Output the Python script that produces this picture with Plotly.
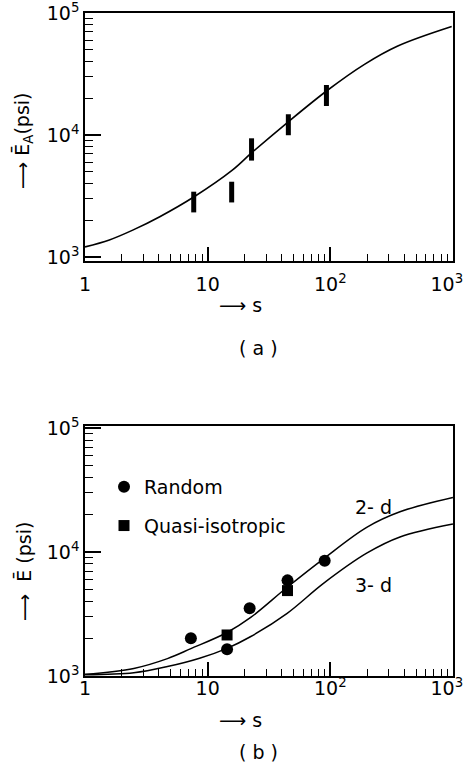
import plotly.graph_objects as go

# ---------- data ----------
a_curve_s = [1, 1.58, 2.45, 4.07, 7.76, 15.8, 22.9, 45.7, 95.5, 190, 355, 977]
a_curve_E = [1210, 1380, 1660, 2140, 3120, 5130, 7160, 12900, 23400, 38000, 53700, 77600]
a_bar_s = [7.7, 15.7, 22.8, 45.5, 93]
a_bar_lo = [2320, 2800, 6170, 9960, 17300]
a_bar_hi = [3430, 4140, 9400, 14800, 25700]

b2_s = [1, 2.5, 4.7, 7.3, 14.4, 22.3, 44.5, 88, 198, 370, 1000]
b2_E = [1030, 1150, 1380, 1660, 2240, 2950, 5190, 8810, 15800, 21100, 27500]
b3_s = [1, 2.5, 4.7, 8.6, 14.4, 22.3, 44.5, 88, 198, 370, 1000]
b3_E = [1020, 1060, 1190, 1390, 1670, 2070, 3200, 5580, 9770, 13200, 16800]
rand_s = [7.3, 14.4, 22, 44.8, 90]
rand_E = [2010, 1640, 3520, 5900, 8500]
quasi_s = [14.4, 44.8]
quasi_E = [2140, 4880]

x_tickvals = [1, 10, 100, 1000]
x_ticktext = ["1", "10", "10<sup>2</sup>", "10<sup>3</sup>"]
y_tickvals = [1000, 10000, 100000]
y_ticktext = ["10<sup>3</sup>", "10<sup>4</sup>", "10<sup>5</sup>"]
minor_vals = [m * 10 ** d for d in range(0, 5) for m in range(2, 10)]
# the last x label sits slightly left of its tick (as in the reference)
x_label_pos = x_tickvals[:-1] + [x_tickvals[-1] * 10 ** -0.05]

FONT = "DejaVu Sans"
W, H = 463, 762

def px_x(p):
    return p / W

def px_y(p):
    return 1 - p / H

fig = go.Figure()

fig.add_trace(go.Scatter(x=a_curve_s, y=a_curve_E, mode="lines",
                         line=dict(color="black", width=1.6, shape="spline", smoothing=1.0),
                         showlegend=False, xaxis="x", yaxis="y"))
bx, by = [], []
for s, lo, hi in zip(a_bar_s, a_bar_lo, a_bar_hi):
    bx += [s, s, None]
    by += [lo, hi, None]
fig.add_trace(go.Scatter(x=bx, y=by, mode="lines",
                         line=dict(color="black", width=5),
                         showlegend=False, xaxis="x", yaxis="y"))

fig.add_trace(go.Scatter(x=b2_s, y=b2_E, mode="lines",
                         line=dict(color="black", width=1.5, shape="spline", smoothing=1.0),
                         showlegend=False, xaxis="x2", yaxis="y2"))
fig.add_trace(go.Scatter(x=b3_s, y=b3_E, mode="lines",
                         line=dict(color="black", width=1.5, shape="spline", smoothing=1.0),
                         showlegend=False, xaxis="x2", yaxis="y2"))
fig.add_trace(go.Scatter(x=rand_s, y=rand_E, mode="markers", name="Random",
                         marker=dict(symbol="circle", size=12, color="black"),
                         legendgroup="r", xaxis="x2", yaxis="y2"))
fig.add_trace(go.Scatter(x=quasi_s, y=quasi_E, mode="markers", name="Quasi-isotropic",
                         marker=dict(symbol="square", size=11, color="black"),
                         legendgroup="q", xaxis="x2", yaxis="y2"))

XRANGE = [0, 3.0005]
xdom = [px_x(85), px_x(453)]
TF = dict(family=FONT, size=19, color="black")

def base_axis(rng, dom):
    return dict(type="log", range=rng, domain=dom, automargin=False,
                showgrid=False, zeroline=False, ticklabeloverflow="allow")

def helper_trace(xref, yref):
    # empty trace so that the overlay axis is drawn
    fig.add_trace(go.Scatter(x=[], y=[], mode="markers", showlegend=False,
                             hoverinfo="skip", xaxis=xref, yaxis=yref))

panels = [
    # (x id, y id, y range, y domain px (bottom, top), label row px)
    ("x", "y", [2.967, 5.0005], (261, 13), 271),
    ("x2", "y2", [2.9995, 5.016], (676, 426), 675),
]

layout_axes = {}
n = 3
for xid, yid, yrng, (ybot, ytop), label_px in panels:
    ydom = [px_y(ybot), px_y(ytop)]
    # frame
    ax = base_axis(XRANGE, xdom)
    ax.update(anchor=yid, showline=True, linecolor="black", linewidth=1.5, mirror=True,
              ticks="", showticklabels=False)
    layout_axes["xaxis" if xid == "x" else "xaxis2"] = ax
    ay = base_axis(yrng, ydom)
    ay.update(anchor=xid, showline=True, linecolor="black", linewidth=1.5, mirror=True,
              ticks="", tickmode="array", tickvals=y_tickvals, ticktext=y_ticktext,
              tickfont=TF)
    layout_axes["yaxis" if yid == "y" else "yaxis2"] = ay
    # x ticks: major and minor
    for vals, tlen, tw in ((x_tickvals, 14, 1.8), (minor_vals, 7, 1.3)):
        tx = base_axis(XRANGE, xdom)
        tx.update(overlaying=xid, anchor=yid, showline=False, ticks="inside", ticklen=tlen,
                  tickwidth=tw, tickcolor="black", tickmode="array", tickvals=vals,
                  showticklabels=False)
        layout_axes["xaxis%d" % n] = tx
        helper_trace("x%d" % n, yid)
        n += 1
    # x labels (free position)
    lx = base_axis(XRANGE, xdom)
    lx.update(overlaying=xid, anchor="free", position=px_y(label_px), showline=False,
              ticks="", tickmode="array", tickvals=x_label_pos, ticktext=x_ticktext,
              tickfont=TF)
    layout_axes["xaxis%d" % n] = lx
    helper_trace("x%d" % n, yid)
    n += 1
    # y ticks: major and minor
    for vals, tlen, tw in ((y_tickvals, 16, 1.8), (minor_vals, 8, 1.3)):
        ty = base_axis(yrng, ydom)
        ty.update(overlaying=yid, anchor=xid, showline=False, ticks="inside", ticklen=tlen,
                  tickwidth=tw, tickcolor="black", tickmode="array", tickvals=vals,
                  showticklabels=False)
        layout_axes["yaxis%d" % n] = ty
        helper_trace(xid, "y%d" % n)
        n += 1

ann_font = dict(family=FONT, size=19, color="black")

def ann(text, xp, yp, angle=0):
    return dict(text=text, x=px_x(xp), y=px_y(yp), xref="paper", yref="paper",
                xanchor="center", yanchor="middle", showarrow=False,
                textangle=angle, font=ann_font)

annotations = [
    ann("⟶ s", 240, 305),
    ann("( a )", 258, 348),
    ann("⟶ Ē<sub>A</sub>(psi)", 23, 141, -90),
    ann("⟶ s", 240, 720),
    ann("( b )", 258, 752),
    ann("⟶  Ē (psi)", 23, 572, -90),
    ann("2- d", 373, 507),
    ann("3- d", 373, 585),
]

fig.update_layout(
    width=W, height=H,
    margin=dict(l=0, r=0, t=0, b=0),
    paper_bgcolor="white", plot_bgcolor="white",
    font=dict(family=FONT, color="black"),
    annotations=annotations,
    showlegend=True,
    legend=dict(x=px_x(104), y=px_y(468), xanchor="left", yanchor="top",
                bgcolor="rgba(0,0,0,0)", itemwidth=30, tracegroupgap=11,
                font=dict(family=FONT, size=19, color="black")),
    **layout_axes,
)

fig.write_html("out.html", config={"displayModeBar": False},
               post_script="document.body.style.margin='0';")
